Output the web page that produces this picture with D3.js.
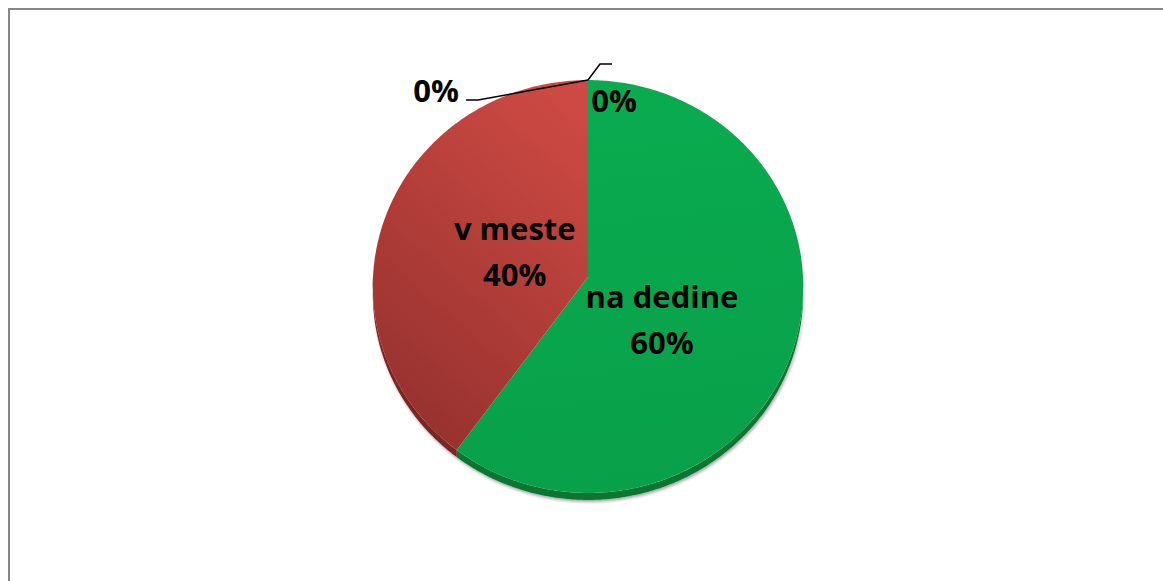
<!DOCTYPE html>
<html lang="sk">
<head>
<meta charset="UTF-8">
<title>na dedine / v meste</title>
<script src="https://cdn.jsdelivr.net/npm/d3@7/dist/d3.min.js"></script>
<style>
    html, body {margin: 0; padding: 0; background: #fff;}
    svg {display: block;}
    .lbl {font-family: "Open Sans", sans-serif; font-weight: bold; font-size: 31px; fill: #000;}
</style>
</head>
<body>
<div id="chart"></div>
<script>
    // data
    var categories = ["na dedine", "v meste", "", ""];
    var values = [60, 40, 0, 0];
    var topColors = [["#0aab50", "#08a049"], ["#cd4943", "#95312e"]];
    var sideColors = ["#0a7433", "#7a2825"];

    var W = 1163, H = 581;

    // pie geometry, a slight perspective tilt like the excel 3d pie
    var cx = 588, cy = 277,
        R = 215, S = 206, p = -0.046,
        depth = 7;

    // label nudges (px) and line layout
    var labelK = 0.36;
    var labelNudge = [[0, 20], [0, -2]];

    var svg = d3.select("#chart").append("svg")
        .attr("width", W)
        .attr("height", H);

    var defs = svg.append("defs");

    topColors.forEach(function(c, i) {
        var g = defs.append("linearGradient")
            .attr("id", "grad" + i)
            .attr("x1", i == 1 ? 0.75 : 0.5).attr("y1", 0)
            .attr("x2", i == 1 ? 0.25 : 0.6).attr("y2", 1);
        g.append("stop").attr("offset", "0%").attr("stop-color", c[0]);
        g.append("stop").attr("offset", "100%").attr("stop-color", c[1]);
    });

    var f = defs.append("filter").attr("id", "shadow")
        .attr("x", "-10%").attr("y", "-10%").attr("width", "120%").attr("height", "130%");
    f.append("feDropShadow").attr("dx", 1).attr("dy", 2)
        .attr("stdDeviation", 1.6).attr("flood-color", "#000").attr("flood-opacity", 0.35);

    // chart border (only top and left are in view)
    svg.append("rect")
        .attr("x", 9).attr("y", 9)
        .attr("width", W + 20).attr("height", H + 20)
        .attr("fill", "none")
        .attr("stroke", "#868686")
        .attr("stroke-width", 2);

    // angle a clockwise from the top, r in radius units
    function proj(a, r) {
        var x = Math.sin(a) * r, y = -Math.cos(a) * r;
        var d = 1 + p * y;
        return [cx + R * x / d, cy + S * y / d];
    }

    function sample(a0, a1, r) {
        var n = Math.max(2, Math.ceil(Math.abs(a1 - a0) / 0.01));
        return d3.range(n + 1).map(function(k) { return proj(a0 + (a1 - a0) * k / n, r); });
    }

    var pie = d3.pie().sort(null).value(function(d) { return d; });
    var arcs = pie(values);

    var line = d3.line().curve(d3.curveLinear);

    // sides first (front half only: 90deg .. 270deg)
    var front0 = Math.PI / 2, front1 = Math.PI * 1.5;
    var sides = svg.append("g").attr("filter", "url(#shadow)");
    arcs.forEach(function(a, i) {
        var s = Math.max(a.startAngle, front0), e = Math.min(a.endAngle, front1);
        if (e <= s) return;
        var edge = sample(s, e, 1);
        var low = edge.slice().reverse().map(function(pt) { return [pt[0], pt[1] + depth]; });
        sides.append("path")
            .attr("d", line(edge.concat(low)) + "Z")
            .attr("fill", sideColors[i]);
    });

    // top faces
    svg.append("g").selectAll("path")
        .data(arcs.filter(function(a) { return a.endAngle > a.startAngle; }))
        .enter().append("path")
        .attr("d", function(a) {
            return line([proj(0, 0)].concat(sample(a.startAngle, a.endAngle, 1))) + "Z";
        })
        .attr("fill", function(a) { return "url(#grad" + a.index + ")"; });

    var fmt = d3.format(".0%");
    var total = d3.sum(values);

    // labels of the real slices
    arcs.forEach(function(a, i) {
        if (a.value == 0) return;
        var mid = (a.startAngle + a.endAngle) / 2;
        var c = proj(mid, labelK);
        var x = c[0] + labelNudge[i][0], y = c[1] + labelNudge[i][1];
        var t = svg.append("text").attr("class", "lbl").attr("text-anchor", "middle");
        t.append("tspan").attr("x", x).attr("y", y - 12).text(categories[i]);
        t.append("tspan").attr("x", x).attr("y", y + 34).text(fmt(a.value / total));
    });

    // the two zero slices sit at the top, one with a leader to the left, one up-right
    var zeros = arcs.filter(function(a) { return a.value == 0; });
    var anchor = proj(zeros[0].startAngle, 1);

    svg.append("path")
        .attr("d", line([anchor, [anchor[0] - 110, anchor[1] + 20], [anchor[0] - 122, anchor[1] + 20]]))
        .attr("fill", "none").attr("stroke", "#000").attr("stroke-width", 1.5);
    svg.append("text").attr("class", "lbl")
        .attr("text-anchor", "end")
        .attr("x", anchor[0] - 129).attr("y", anchor[1] + 22)
        .text(fmt(zeros[0].value / total));

    svg.append("path")
        .attr("d", line([anchor, [anchor[0] + 12, anchor[1] - 16], [anchor[0] + 24, anchor[1] - 16]]))
        .attr("fill", "none").attr("stroke", "#000").attr("stroke-width", 1.5);
    svg.append("text").attr("class", "lbl")
        .attr("text-anchor", "middle")
        .attr("x", anchor[0] + 26).attr("y", anchor[1] + 32)
        .text(fmt(zeros[1].value / total));
</script>
</body>
</html>
